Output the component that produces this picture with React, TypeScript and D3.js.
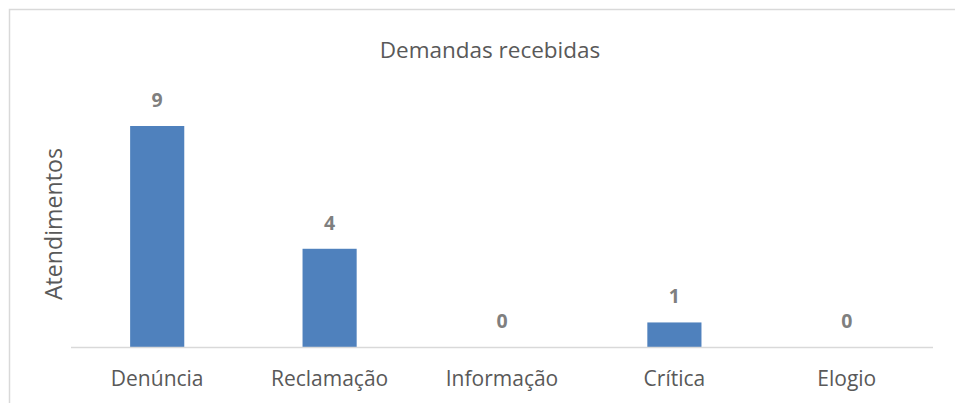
import React from "react";
import * as d3 from "d3";

const categories = ["Denúncia", "Reclamação", "Informação", "Crítica", "Elogio"];
const values = [9, 4, 0, 1, 0];
const title = "Demandas recebidas";
const yLabel = "Atendimentos";

const W = 955;
const H = 403;
const m = { left: 71, right: 22, top: 126, bottom: 56 };

export default function App() {
  const x = d3
    .scaleBand<string>()
    .domain(categories)
    .range([m.left, W - m.right])
    .paddingInner(0.686)
    .paddingOuter(0.343);
  const y = d3.scaleLinear().domain([0, 9]).range([H - m.bottom, m.top]);
  const font = "'Open Sans', sans-serif";
  return (
    <svg width={W} height={H} style={{ position: "absolute", left: 0, top: 0, background: "#fff" }}>
      <rect x={9.5} y={9.5} width={W + 10} height={H + 10} fill="#fff" stroke="#d9d9d9" strokeWidth={1.5} />
      <text x={490} y={58} textAnchor="middle" fontFamily={font} fontSize={22.5} fill="#595959">
        {title}
      </text>
      <text
        transform={`translate(62,224) rotate(-90)`}
        textAnchor="middle"
        fontFamily={font}
        fontSize={23.2}
        fill="#595959"
      >
        {yLabel}
      </text>
      {categories.map((c, i) => (
        <g key={c}>
          {values[i] > 0 && (
            <rect
              x={x(c)}
              y={y(values[i])}
              width={x.bandwidth()}
              height={y(0) - y(values[i])}
              fill="#4f81bd"
            />
          )}
          <text
            x={(x(c) as number) + x.bandwidth() / 2}
            y={y(values[i]) - 19}
            textAnchor="middle"
            fontFamily={font}
            fontWeight="bold"
            fontSize={19.5}
            fill="#7f7f7f"
          >
            {values[i]}
          </text>
          <text
            x={(x(c) as number) + x.bandwidth() / 2}
            y={H - m.bottom + 39}
            textAnchor="middle"
            fontFamily={font}
            fontSize={21}
            fill="#595959"
          >
            {c}
          </text>
        </g>
      ))}
      <line x1={m.left} x2={W - m.right} y1={y(0) + 0.5} y2={y(0) + 0.5} stroke="#d9d9d9" strokeWidth={1.5} />
    </svg>
  );
}
